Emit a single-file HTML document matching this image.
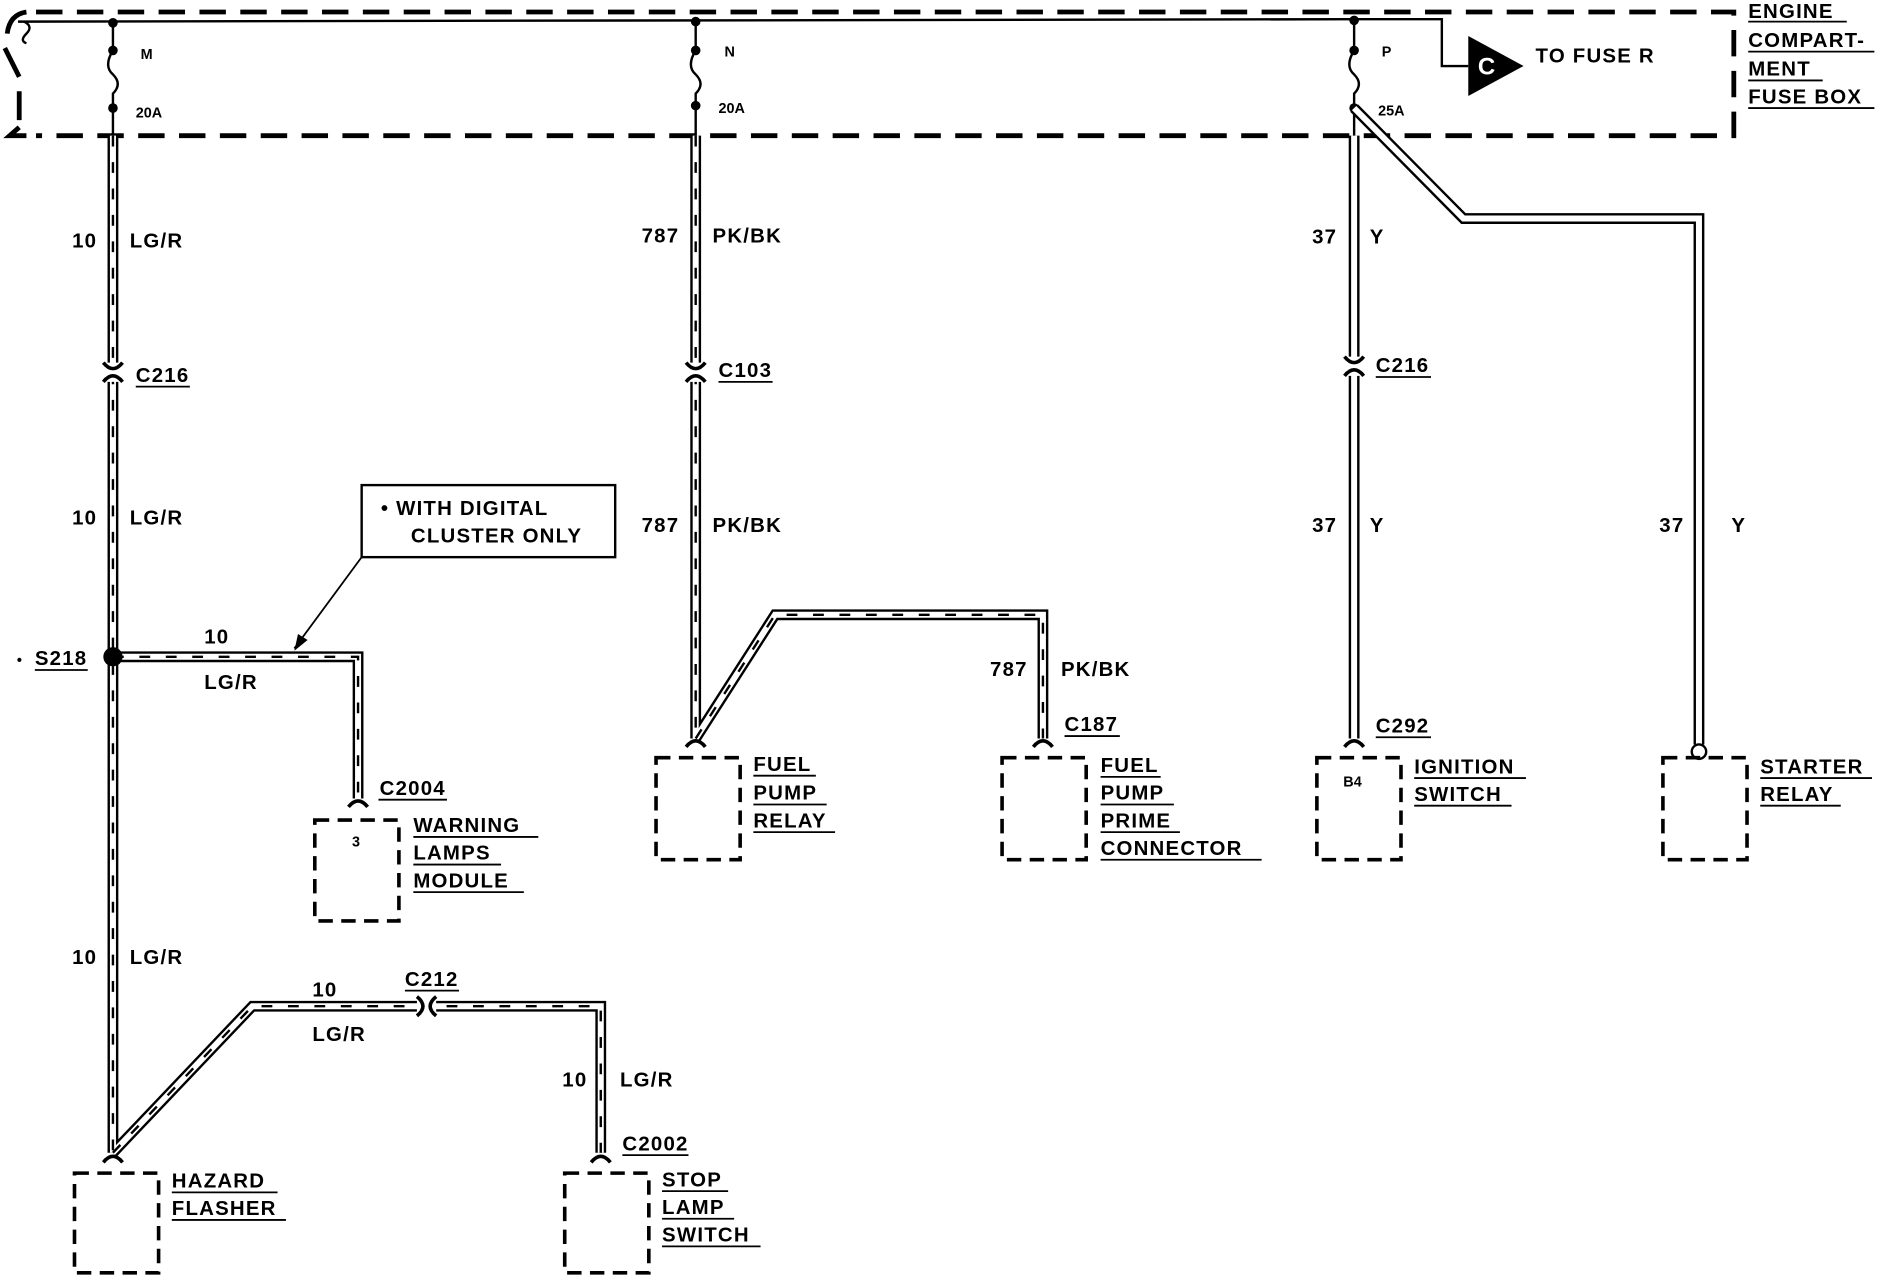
<!DOCTYPE html>
<html><head><meta charset="utf-8"><style>
html,body{margin:0;padding:0;background:#fff}
svg{display:block}
text{font-family:"Liberation Sans",Arial,sans-serif;font-weight:bold;fill:#000;font-size:17px;letter-spacing:1px}
.s{font-size:12px;letter-spacing:0}
</style></head><body>
<svg width="1884" height="1280" viewBox="0 0 1568 1066" preserveAspectRatio="none" xmlns="http://www.w3.org/2000/svg">
<g fill="none" stroke="#000">
<path d="M30 10 H1443 V113 H30" stroke-width="4" stroke-dasharray="22 12"/>
<path d="M22 10 Q8 12 6 28 M4 40 L16 64 M16 76 L16 100 M16 106 L8 113 H22" stroke-width="4"/>
<path d="M15 18 L1127 16 H1200 V55 H1222" stroke-width="2"/>
<path d="M20 18 Q28 22 22 28 Q16 34 22 36" stroke-width="2"/>
<path d="M94 18 V42 Q86 55 94 62 Q102 70 94 78 V113" stroke-width="2"/>
<path d="M579 18 V42 Q571 55 579 62 Q587 70 579 78 V113" stroke-width="2"/>
<path d="M1127 16 V42 Q1119 55 1127 62 Q1135 70 1127 78 V113" stroke-width="2"/>
</g>
<g fill="#000">
<circle cx="94" cy="19" r="4"/><circle cx="94" cy="42" r="4"/><circle cx="94" cy="90" r="4"/>
<circle cx="579" cy="18" r="4"/><circle cx="579" cy="42" r="4"/><circle cx="579" cy="88" r="4"/>
<circle cx="1127" cy="17" r="4"/><circle cx="1127" cy="42" r="4"/><circle cx="1127" cy="90" r="4"/>
<polygon points="1222,30 1268,55 1222,80"/>
</g>
<text x="1230" y="62" style="fill:#fff;font-size:20px">C</text>
<g fill="none">
<g stroke="#000" stroke-width="9">
<path d="M94 113 V960 M94 547 H298 V665 M94 960 L210 838 H500 V960"/>
<path d="M579 113 V615 M579 615 L645 512 H868 V615"/>
<path d="M1127 113 V615 M1127 90 L1218 182 H1414 V620"/>
</g>
<g stroke="#fff" stroke-width="5">
<path d="M94 113 V960 M94 547 H298 V665 M94 960 L210 838 H500 V960"/>
<path d="M579 113 V615 M579 615 L645 512 H868 V615"/>
<path d="M1127 113 V615 M1127 90 L1218 182 H1414 V620"/>
</g>
<g stroke="#000" stroke-width="2" stroke-dasharray="9 13">
<path d="M94 113 V960 M94 547 H298 V665 M94 960 L210 838 H500 V960"/>
<path d="M579 113 V615 M579 615 L645 512 H868 V615"/>
</g>
<g stroke="#fff" stroke-width="12">
<path d="M94 302 V318 M579 302 V318 M1127 297 V313 M347 838 H363"/>
</g>
<g stroke="#000" stroke-width="3">
<path d="M86 302 Q94 312 102 302 M86 318 Q94 308 102 318"/>
<path d="M571 302 Q579 312 587 302 M571 318 Q579 308 587 318"/>
<path d="M1119 297 Q1127 307 1135 297 M1119 313 Q1127 303 1135 313"/>
<path d="M347 830 Q357 838 347 846 M363 830 Q353 838 363 846"/>
<path d="M86 968 Q94 958 102 968 M492 968 Q500 958 508 968 M290 672 Q298 662 306 672 M571 622 Q579 612 587 622 M860 622 Q868 612 876 622 M1119 622 Q1127 612 1135 622"/>
</g>
<circle cx="1414" cy="626" r="6" stroke="#000" stroke-width="2" fill="#fff"/>
<g stroke="#000" stroke-width="3" stroke-dasharray="12 7">
<rect x="62" y="977" width="70" height="83"/>
<rect x="470" y="977" width="70" height="83"/>
<rect x="262" y="683" width="70" height="84"/>
<rect x="546" y="631" width="70" height="85"/>
<rect x="834" y="631" width="70" height="85"/>
<rect x="1096" y="631" width="70" height="85"/>
<rect x="1384" y="631" width="70" height="85"/>
</g>
<rect x="301" y="404" width="211" height="60" stroke="#000" stroke-width="2"/>
<path d="M301 464 L245 540" stroke="#000" stroke-width="1.5"/>
</g>
<circle cx="94" cy="547" r="8" fill="#000"/>
<polygon points="245,542 248,528 256,533" fill="#000"/>
<g stroke="#000" stroke-width="1.5">
<path d="M113 322 H158 M598 318 H643 M1145 314 H1191 M29 558 H73 M315 666 H372 M337 825 H382 M886 613 H932 M1145 614 H1191 M518 962 H573"/>
<path d="M1455 18 H1537 M1455 43 H1560 M1455 67 H1517 M1455 90 H1560"/>
<path d="M143 993 H231 M143 1016 H238 M551 992 H606 M551 1015 H611 M551 1038 H633"/>
<path d="M344 697 H448 M344 720 H417 M344 743 H436"/>
<path d="M627 646 H679 M627 670 H688 M627 693 H695"/>
<path d="M916 647 H966 M916 670 H977 M916 693 H982 M916 716 H1050"/>
<path d="M1177 648 H1270 M1177 671 H1258 M1465 648 H1558 M1465 671 H1532"/>
</g>
<text class="s" x="117" y="49">M</text><text class="s" x="113" y="98">20A</text>
<text class="s" x="603" y="47">N</text><text class="s" x="598" y="94">20A</text>
<text class="s" x="1150" y="47">P</text><text class="s" x="1147" y="96">25A</text>
<text x="1278" y="52">TO FUSE R</text>
<text x="1455" y="15">ENGINE</text><text x="1455" y="39">COMPART-</text><text x="1455" y="63">MENT</text><text x="1455" y="86">FUSE BOX</text>
<text x="60" y="206">10</text><text x="108" y="206">LG/R</text>
<text x="113" y="318">C216</text>
<text x="60" y="437">10</text><text x="108" y="437">LG/R</text>
<text x="60" y="803">10</text><text x="108" y="803">LG/R</text>
<text x="14" y="554" class="s">•</text><text x="29" y="554">S218</text>
<text x="170" y="536">10</text><text x="170" y="574">LG/R</text>
<text x="317" y="429">•  WITH DIGITAL</text><text x="342" y="452">CLUSTER ONLY</text>
<text x="316" y="662">C2004</text>
<text class="s" x="293" y="705">3</text>
<text x="344" y="693">WARNING</text><text x="344" y="716">LAMPS</text><text x="344" y="739">MODULE</text>
<text x="260" y="830">10</text><text x="337" y="821">C212</text><text x="260" y="867">LG/R</text>
<text x="468" y="905">10</text><text x="516" y="905">LG/R</text>
<text x="518" y="958">C2002</text>
<text x="143" y="989">HAZARD</text><text x="143" y="1012">FLASHER</text>
<text x="551" y="988">STOP</text><text x="551" y="1011">LAMP</text><text x="551" y="1034">SWITCH</text>
<text x="534" y="202">787</text><text x="593" y="202">PK/BK</text>
<text x="598" y="314">C103</text>
<text x="534" y="443">787</text><text x="593" y="443">PK/BK</text>
<text x="824" y="563">787</text><text x="883" y="563">PK/BK</text>
<text x="886" y="609">C187</text>
<text x="627" y="642">FUEL</text><text x="627" y="666">PUMP</text><text x="627" y="689">RELAY</text>
<text x="916" y="643">FUEL</text><text x="916" y="666">PUMP</text><text x="916" y="689">PRIME</text><text x="916" y="712">CONNECTOR</text>
<text x="1092" y="203">37</text><text x="1140" y="203">Y</text>
<text x="1145" y="310">C216</text>
<text x="1092" y="443">37</text><text x="1140" y="443">Y</text>
<text x="1381" y="443">37</text><text x="1441" y="443">Y</text>
<text x="1145" y="610">C292</text>
<text class="s" x="1118" y="655">B4</text>
<text x="1177" y="644">IGNITION</text><text x="1177" y="667">SWITCH</text>
<text x="1465" y="644">STARTER</text><text x="1465" y="667">RELAY</text>
</svg>
</body></html>
